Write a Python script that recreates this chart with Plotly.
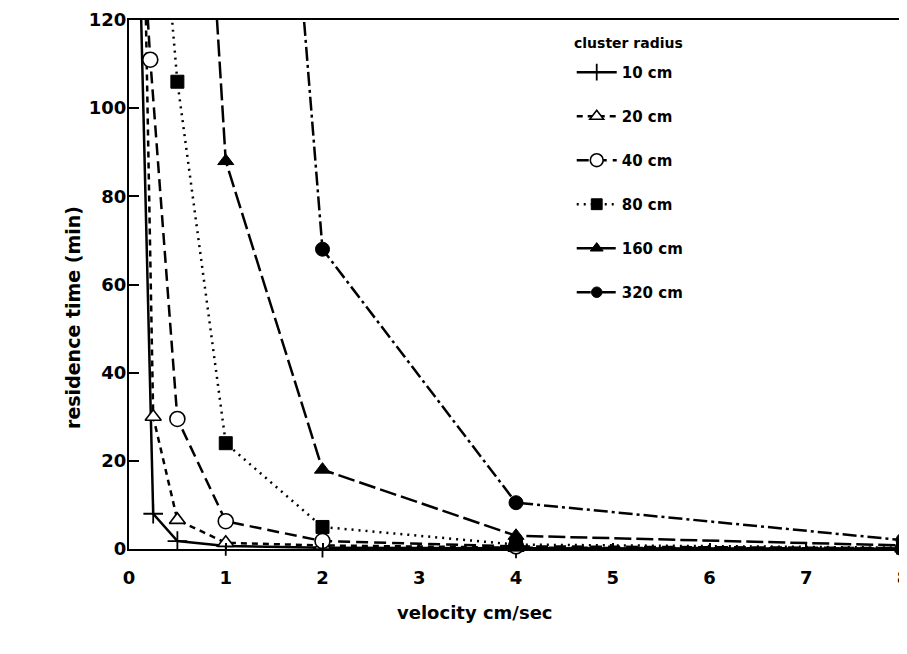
import plotly.graph_objects as go

FONT = "DejaVu Sans"

# velocity (cm/sec) and residence time (min) per cluster radius
v10 = [0.125, 0.25, 0.5, 1, 2, 4, 8]
t10 = [121, 8, 1.8, 0.7, 0.3, 0.15, 0.05]

v20 = [0.125, 0.25, 0.5, 1, 2, 4, 8]
t20 = [180, 30, 6.6, 1.4, 0.8, 0.3, 0.1]

v40 = [0.125, 0.22, 0.5, 1, 2, 4, 8]
t40 = [145, 111, 29.5, 6.3, 1.8, 0.6, 0.2]

v80 = [0.25, 0.5, 1, 2, 4, 8]
t80 = [170, 106, 24, 5, 1.0, 0.3]

v160 = [0.5, 1, 2, 4, 8]
t160 = [265, 88, 18, 3, 0.8]

v320 = [1, 2, 4, 8]
t320 = [340, 68, 10.5, 2.0]

names = ["10 cm", "20 cm", "40 cm", "80 cm", "160 cm", "320 cm"]
xs = [v10, v20, v40, v80, v160, v320]
ys = [t10, t20, t40, t80, t160, t320]
xticks = [0, 1, 2, 3, 4, 5, 6, 7, 8]
yticks = [0, 20, 40, 60, 80, 100, 120]

YMAX = 120
styles = [
    dict(dash="solid", symbol="cross-thin", size=14, fill="black", lw=1.8),
    dict(dash="6px,5px", symbol="triangle-up", size=14, fill="white", lw=1.6),
    dict(dash="12px,6px", symbol="circle", size=15, fill="white", lw=1.6),
    dict(dash="2px,5px", symbol="square", size=13, fill="black", lw=1),
    dict(dash="17px,5px", symbol="triangle-up", size=14, fill="black", lw=1),
    dict(dash="14px,4px,3px,4px", symbol="circle", size=14, fill="black", lw=1),
]

fig = go.Figure()
for name, x, y, st in zip(names, xs, ys, styles):
    sizes = [0 if val > YMAX else st["size"] for val in y]
    fig.add_trace(go.Scatter(
        x=x, y=y, mode="lines+markers", name=name, legendgroup=name,
        cliponaxis=False,
        line=dict(color="black", width=2.5, dash=st["dash"]),
        marker=dict(symbol=st["symbol"], size=sizes, color=st["fill"], opacity=1,
                    line=dict(color="black", width=st["lw"])),
    ))

axis_common = dict(
    showline=True, linecolor="black", linewidth=2, mirror=True,
    ticks="inside", tickwidth=1.5, tickcolor="black",
    showgrid=False, zeroline=False, automargin=False,
    tickfont=dict(family=FONT, size=18, color="black", weight="bold"),
)

fig.update_layout(
    width=907, height=654,
    margin=dict(l=121, r=12, t=12, b=113),
    paper_bgcolor="white", plot_bgcolor="white",
    showlegend=True,
    xaxis=dict(range=[0, 8], tickvals=xticks, ticklen=6,
               ticklabelstandoff=11, **axis_common),
    yaxis=dict(range=[0, 120], tickvals=yticks, ticklen=10,
               ticklabelstandoff=-3, **axis_common),
    legend=dict(
        x=0.572, y=0.932, xanchor="left", yanchor="top",
        bgcolor="rgba(0,0,0,0)", tracegroupgap=21.5, itemwidth=40,
        font=dict(family=FONT, size=15, color="black", weight="bold"),
    ),
    annotations=[
        dict(text="cluster radius", xref="paper", yref="paper",
             x=0.572, y=0.9565, xanchor="left", yanchor="middle", showarrow=False,
             font=dict(family=FONT, size=14, color="black", weight="bold")),
        dict(text="residence time (min)", xref="paper", yref="paper",
             x=-0.089, y=0.437, textangle=-90, showarrow=False,
             font=dict(family=FONT, size=19, color="black", weight="bold")),
        dict(text="velocity cm/sec", xref="paper", yref="paper",
             x=0.447, y=-0.1437, showarrow=False,
             font=dict(family=FONT, size=18, color="black", weight="bold")),
    ],
)

fig.write_html("out.html")
